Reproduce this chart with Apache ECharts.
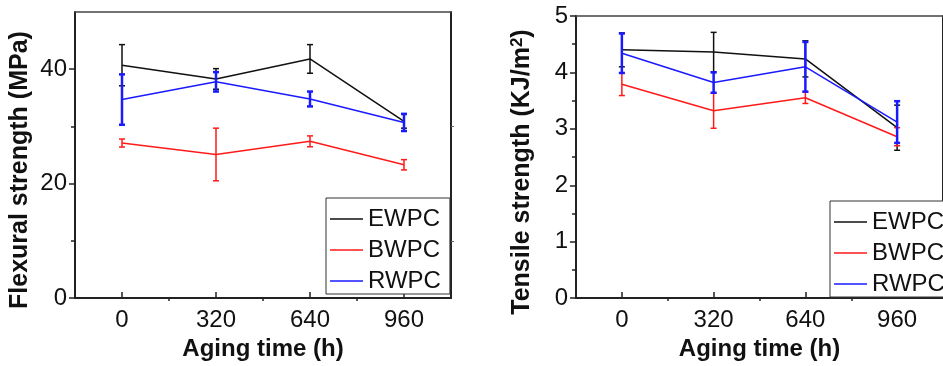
<!DOCTYPE html>
<html>
<head>
<meta charset="utf-8">
<script src="https://cdn.jsdelivr.net/npm/echarts@6/dist/echarts.min.js"></script>
<style>
html,body{margin:0;padding:0;background:#fff;}
#c{width:943px;height:366px;}
</style>
</head>
<body>
<div id="c"></div>
<script>
// ---- data ----
const categories = [0, 320, 640, 960];
const seriesNames = ['EWPC', 'BWPC', 'RWPC'];
const xTickLabels = [0, 320, 640, 960];
const xMinorTicks = [160, 480, 800];
const flexTickLabels = [0, 20, 40];
const flexMinorTicks = [10, 30];
const tensTickLabels = [0, 1, 2, 3, 4, 5];
const tensMinorTicks = [0.5, 1.5, 2.5, 3.5, 4.5];

const flexE = [40.7, 38.3, 41.8, 30.9];
const flexEErr = [3.6, 1.8, 2.5, 1.2];
const flexB = [27.1, 25.1, 27.4, 23.3];
const flexBErr = [0.7, 4.6, 0.95, 0.9];
const flexR = [34.7, 37.8, 34.8, 30.7];
const flexRErr = [4.4, 1.7, 1.3, 1.5];

const tensE = [4.40, 4.36, 4.24, 3.02];
const tensEErr = [0.30, 0.35, 0.32, 0.40];
const tensB = [3.79, 3.32, 3.55, 2.86];
const tensBErr = [0.20, 0.31, 0.10, 0.16];
const tensR = [4.34, 3.82, 4.10, 3.12];
const tensRErr = [0.35, 0.18, 0.44, 0.37];

// ---- styles ----
const FONT = "'Liberation Sans', Arial, sans-serif";
const colors = {EWPC: '#111111', BWPC: '#ff1a1a', RWPC: '#1a1aff'};
const errWidth = {EWPC: 1.5, BWPC: 1.5, RWPC: 2.5};
const AX = '#222';

function pairs(vals) { return categories.map((c, i) => [c, vals[i]]); }
function errPairs(vals, errs) { return categories.map((c, i) => [c, vals[i], errs[i]]); }

function lineSeries(name, vals, gi) {
  return {
    type: 'line', name: name, xAxisIndex: gi * 3, yAxisIndex: gi * 3,
    data: pairs(vals), symbol: 'none', showSymbol: false,
    lineStyle: {color: colors[name], width: 1.5}, itemStyle: {color: colors[name]},
    clip: false, z: 3, animation: false
  };
}
function errSeries(name, vals, errs, gi) {
  const col = colors[name], w = errWidth[name];
  return {
    type: 'custom', name: name + ' err', xAxisIndex: gi * 3, yAxisIndex: gi * 3,
    data: errPairs(vals, errs), clip: false, z: 4, animation: false,
    renderItem: function (params, api) {
      const x = api.value(0), y = api.value(1), e = api.value(2);
      const top = api.coord([x, y + e]);
      const bot = api.coord([x, y - e]);
      const hw = 3;
      const st = {stroke: col, lineWidth: w};
      return {type: 'group', children: [
        {type: 'line', shape: {x1: top[0], y1: top[1], x2: bot[0], y2: bot[1]}, style: st},
        {type: 'line', shape: {x1: top[0] - hw, y1: top[1], x2: top[0] + hw, y2: top[1]}, style: st},
        {type: 'line', shape: {x1: bot[0] - hw, y1: bot[1], x2: bot[0] + hw, y2: bot[1]}, style: st}
      ]};
    }
  };
}

function xAxes(gi) {
  return [
    { // main bottom
      type: 'value', gridIndex: gi, position: 'bottom', min: -160, max: 1120, interval: 160,
      name: 'Aging time (h)', nameLocation: 'middle', nameGap: 36,
      nameTextStyle: {fontFamily: FONT, fontSize: 24, fontWeight: 'bold', color: '#111'},
      axisLine: {show: true, onZero: false, lineStyle: {color: AX, width: 2}},
      axisTick: {show: true, inside: true, length: 6, customValues: xTickLabels, lineStyle: {color: AX, width: 1.5}},
      axisLabel: {show: true, customValues: xTickLabels, margin: 10, fontFamily: FONT, fontSize: 24, color: '#111'},
      splitLine: {show: false}
    },
    { // top frame
      type: 'value', gridIndex: gi, position: 'top', min: -160, max: 1120,
      axisLine: {show: true, onZero: false, lineStyle: {color: '#444', width: 1.5}},
      axisTick: {show: false}, axisLabel: {show: false}, splitLine: {show: false}
    },
    { // minor ticks bottom, outward
      type: 'value', gridIndex: gi, position: 'bottom', offset: 0, min: -160, max: 1120, interval: 160,
      axisLine: {show: false, onZero: false},
      axisTick: {show: true, inside: false, length: 3, customValues: xMinorTicks, lineStyle: {color: AX, width: 1.5}},
      axisLabel: {show: false}, splitLine: {show: false}
    }
  ];
}

function yAxes(gi, max, interval, labels, minor, name, nameGap, nameRich) {
  const main = {
    type: 'value', gridIndex: gi, position: 'left', min: 0, max: max, interval: interval,
    name: name, nameLocation: 'middle', nameGap: nameGap, nameRotate: 90,
    nameTextStyle: {fontFamily: FONT, fontSize: 25, fontWeight: 'bold', color: '#111',
      padding: [0, 30, 0, 0], rich: nameRich},
    axisLine: {show: true, onZero: false, lineStyle: {color: AX, width: 2}},
    axisTick: {show: true, inside: false, length: 6, customValues: labels, lineStyle: {color: AX, width: 1.5}},
    axisLabel: {show: true, customValues: labels, margin: 8, fontFamily: FONT, fontSize: 24, color: '#111'},
    splitLine: {show: false}
  };
  const right = {
    type: 'value', gridIndex: gi, position: 'right', min: 0, max: max, interval: interval / 2,
    axisLine: {show: true, onZero: false, lineStyle: {color: AX, width: 2}},
    axisTick: {show: true, inside: false, length: 3, customValues: minor, lineStyle: {color: '#666', width: 1}},
    axisLabel: {show: false}, splitLine: {show: false}
  };
  const minorAx = {
    type: 'value', gridIndex: gi, position: 'left', offset: 0, min: 0, max: max, interval: interval / 2,
    axisLine: {show: false, onZero: false},
    axisTick: {show: true, inside: false, length: 4, customValues: minor, lineStyle: {color: AX, width: 1.5}},
    axisLabel: {show: false}, splitLine: {show: false}
  };
  return [main, right, minorAx];
}

const legendBase = {
  orient: 'vertical', data: seriesNames, icon: 'rect', itemWidth: 33, itemHeight: 1.5, itemGap: 7,
  borderColor: '#333', borderWidth: 1, backgroundColor: '#fff',
  padding: [9, 9, 1, 4], selectedMode: false,
  textStyle: {fontFamily: FONT, fontSize: 24, color: '#111', lineHeight: 24}
};

const option = {
  animation: false,
  backgroundColor: '#fff',
  grid: [
    {left: 75, top: 12, width: 376, height: 290, containLabel: false},
    {left: 576, top: 16, width: 378, height: 287, containLabel: false}
  ],
  legend: [
    Object.assign({}, legendBase, {left: 326, top: 198}),
    Object.assign({}, legendBase, {left: 830, top: 201})
  ],
  xAxis: xAxes(0).concat(xAxes(1)),
  yAxis: yAxes(0, 50, 20, flexTickLabels, flexMinorTicks, 'Flexural strength (MPa)', 42, {})
    .concat(yAxes(1, 5, 1, tensTickLabels, tensMinorTicks, 'Tensile strength (KJ/m{sup|2})', 40,
      {sup: {fontFamily: FONT, fontSize: 17, fontWeight: 'bold', color: '#111', padding: [0, 0, 10, 0]}})),
  series: [
    lineSeries('EWPC', flexE, 0), errSeries('EWPC', flexE, flexEErr, 0),
    lineSeries('BWPC', flexB, 0), errSeries('BWPC', flexB, flexBErr, 0),
    lineSeries('RWPC', flexR, 0), errSeries('RWPC', flexR, flexRErr, 0),
    lineSeries('EWPC', tensE, 1), errSeries('EWPC', tensE, tensEErr, 1),
    lineSeries('BWPC', tensB, 1), errSeries('BWPC', tensB, tensBErr, 1),
    lineSeries('RWPC', tensR, 1), errSeries('RWPC', tensR, tensRErr, 1)
  ]
};

const chart = echarts.init(document.getElementById('c'), null, {renderer: 'canvas'});
chart.setOption(option);
</script>
</body>
</html>
